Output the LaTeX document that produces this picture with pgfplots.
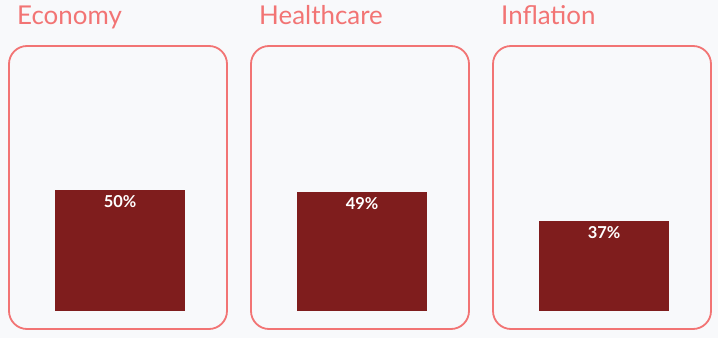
\documentclass[border=0pt]{standalone}
\usepackage{fontspec}
\setmainfont{Lato}
\usepackage{pgfplots}
\pgfplotsset{compat=1.18}
\definecolor{bg}{HTML}{F8F9FB}
\definecolor{bord}{HTML}{F27474}
\definecolor{barc}{HTML}{7F1D1D}
\pgfplotsset{panel/.style={
  anchor=south west, width=218bp, height=283bp, scale only axis,
  axis lines=none, xmin=-0.5, xmax=0.5, ymin=-7.44, ymax=109.5,
  ybar, bar width=130bp, clip=false,
  point meta=y,
  /pgf/number format/assume math mode=true,
  nodes near coords={\pgfmathprintnumber{\pgfplotspointmeta}\%},
  nodes near coords style={font=\bfseries\fontsize{16.5}{16.5}\selectfont, text=white, anchor=north, inner sep=0pt, yshift=-5bp},
}}
\newcommand{\panelframe}[1]{%
  \draw[rounded corners=18bp, line width=1.8bp, color=bord] (rel axis cs:0,0) rectangle (rel axis cs:1,1);
  \node[anchor=base west, text=bord, font=\fontsize{26}{26}\selectfont, inner sep=0pt, xshift=8bp, yshift=21bp] at (rel axis cs:0,1) {#1};
}
\begin{document}
\begin{tikzpicture}
\fill[bg] (0,0) rectangle (718bp,338bp);
\useasboundingbox (0,0) rectangle (718bp,338bp);
\begin{axis}[panel, at={(9bp,9bp)}]
  \addplot[fill=barc, draw=none] coordinates {(0.01,50)};
  \panelframe{Economy}
\end{axis}
\begin{axis}[panel, at={(251bp,9bp)}]
  \addplot[fill=barc, draw=none] coordinates {(0.01,49)};
  \panelframe{Healthcare}
\end{axis}
\begin{axis}[panel, at={(493bp,9bp)}]
  \addplot[fill=barc, draw=none] coordinates {(0.01,37)};
  \panelframe{Inflation}
\end{axis}
\end{tikzpicture}
\end{document}
